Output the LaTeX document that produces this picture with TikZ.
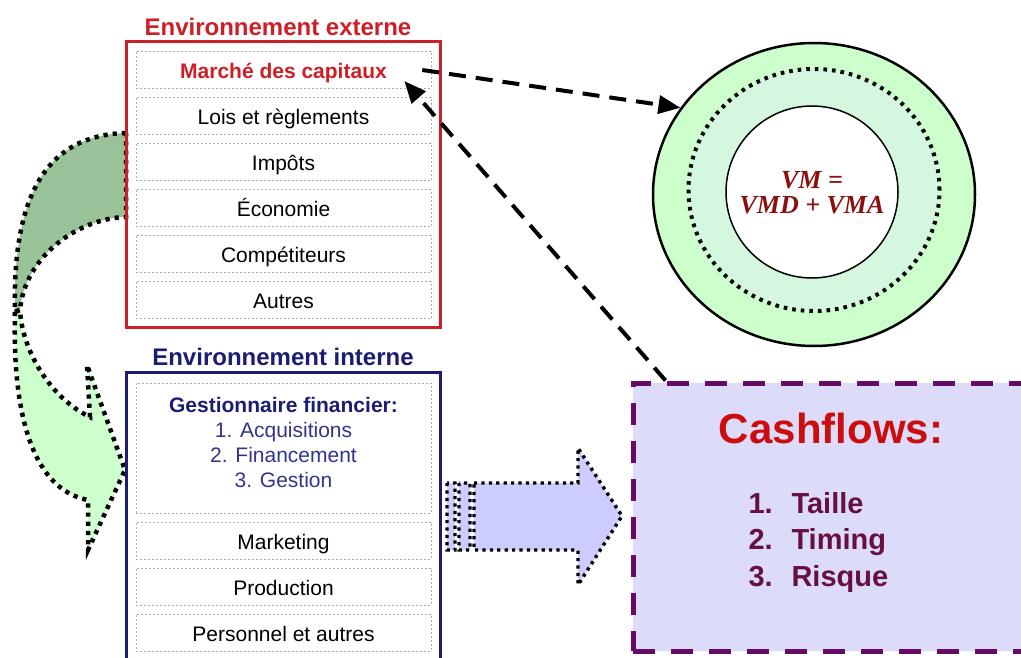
\documentclass[tikz,border=0pt]{standalone}
\usepackage{fontspec}
\setmainfont{Liberation Sans}
\newfontfamily\timesfont{Liberation Serif}
\usetikzlibrary{arrows.meta,shapes.geometric}

\definecolor{extred}{HTML}{CC1F26}
\definecolor{intblue}{HTML}{1C1C73}
\definecolor{itemblue}{HTML}{33338C}
\definecolor{cashred}{HTML}{CC0D0D}
\definecolor{cashtext}{HTML}{66103F}
\definecolor{cashframe}{HTML}{660A66}
\definecolor{cashfill}{HTML}{DCDCFA}
\definecolor{ringouter}{HTML}{CCFFCC}
\definecolor{ringinner}{HTML}{D5F7E0}
\definecolor{backgreen}{HTML}{99C299}
\definecolor{vmred}{HTML}{8B0F0F}
\definecolor{arrowblue}{HTML}{CCCCFF}

\begin{document}
\begin{tikzpicture}[x=1pt, y=-1pt,
    cell/.style={draw=gray!65, line width=0.6pt, dash pattern=on 2pt off 2pt,
        minimum width=295pt, minimum height=37pt, inner sep=0pt,
        text height=18pt, text depth=1pt,
        font=\fontsize{21}{25}\selectfont},
    heading/.style={font=\bfseries\fontsize{24}{28}\selectfont},
    frame/.style={line width=3pt, minimum width=314pt, inner sep=0pt},
    dots/.style={draw=black, line width=4.5pt, dash pattern=on 4.2pt off 5pt},
    link/.style={line width=4pt, dash pattern=on 17pt off 10pt,
        -{Triangle[length=22pt, width=18pt]}}]
    \clip (0,0) rectangle (1021,658);

    % curved arrow between the two frames
    \path[dots, fill=backgreen] (126,133) .. controls (50,135) and (12,190) .. (15,312)
        -- (20,310) .. controls (25,255) and (80,218) .. (126,217) -- cycle;
    \path[dots, fill=ringouter] (15,312) .. controls (12,420) and (35,490) .. (88,500)
        -- (88,550) -- (125,470) -- (87,365) -- (90,417)
        .. controls (50,398) and (22,350) .. (20,310) -- cycle;

    % external environment
    \node[heading, text=extred] (exth) at (278,27) {Environnement externe};
    \node[frame, draw=extred, minimum height=285pt] (ext) at (283,184.5) {};
    \node[cell, text=extred, font=\bfseries\fontsize{21}{25}\selectfont] (mc) at (283.5,70) {Marché des capitaux};
    \node[cell] (lois) at (283.5,116) {Lois et règlements};
    \node[cell] (impots) at (283.5,162) {Impôts};
    \node[cell] (eco) at (283.5,208) {Économie};
    \node[cell] (comp) at (283.5,254) {Compétiteurs};
    \node[cell] (autres) at (283.5,300) {Autres};

    % internal environment
    \node[heading, text=intblue] (inth) at (283,357) {Environnement interne};
    \node[frame, draw=intblue, minimum height=300pt] (int) at (283,522) {};
    \node[cell, minimum height=130pt] (gest) at (283.5,448) {};
    \node[align=center, text=itemblue, font=\fontsize{21}{25}\selectfont] (gesttxt) at ([yshift=5.5pt]gest.center)
        {\textcolor{intblue}{\bfseries Gestionnaire financier:}\\1. Acquisitions\\2. Financement\\3. Gestion};
    \node[cell] (mkt) at (283.5,540.5) {Marketing};
    \node[cell] (prod) at (283.5,586.5) {Production};
    \node[cell] (pers) at (283.5,632.5) {Personnel et autres};

    % striped block arrow
    \path[dots, line width=3.4pt, dash pattern=on 3.2pt off 4.2pt, fill=arrowblue]
        (447,483) rectangle (455,550)
        (459,483) rectangle (470,550)
        (474,483) -- (578,483) -- (578,448) -- (622,516) -- (578,585) -- (578,550) -- (474,550) -- cycle;

    % value rings
    \node[ellipse, draw=black, line width=2.5pt, fill=ringouter, minimum width=322pt, minimum height=303pt] (outer) at (814,194.5) {};
    \node[ellipse, dots, line width=4pt, dash pattern=on 3.6pt off 5pt, fill=ringinner, minimum width=251pt, minimum height=242pt] (middle) at (814,190) {};
    \node[circle, draw=black, line width=1.5pt, fill=white, minimum size=172pt, inner sep=0pt] (inner) at (812,192) {};
    \node[align=center, text=vmred, font=\timesfont\bfseries\itshape\fontsize{26}{25}\selectfont] (vm) at (812,193) {VM =\\VMD + VMA};

    % cashflows
    \node[draw=cashframe, fill=cashfill, line width=5pt, dash pattern=on 22pt off 16pt,
        minimum width=407pt, minimum height=268pt, inner sep=0pt] (cash) at (836.5,517) {};
    \node[text=cashred, font=\bfseries\fontsize{42}{48}\selectfont] (cashh) at (831,428) {Cashflows:};
    \node[anchor=west, align=left, text=cashtext, font=\bfseries\fontsize{29}{36.5}\selectfont] (cashl) at (745,542)
        {\makebox[43pt][l]{1.}Taille\\\makebox[43pt][l]{2.}Timing\\\makebox[43pt][l]{3.}Risque};

    % dashed links
    \draw[link] ([xshift=-9pt]mc.east) -- (outer.147);
    \draw[link] ([xshift=35pt]cash.north west) -- ([xshift=-27pt, yshift=-11pt]mc.east);
\end{tikzpicture}
\end{document}
